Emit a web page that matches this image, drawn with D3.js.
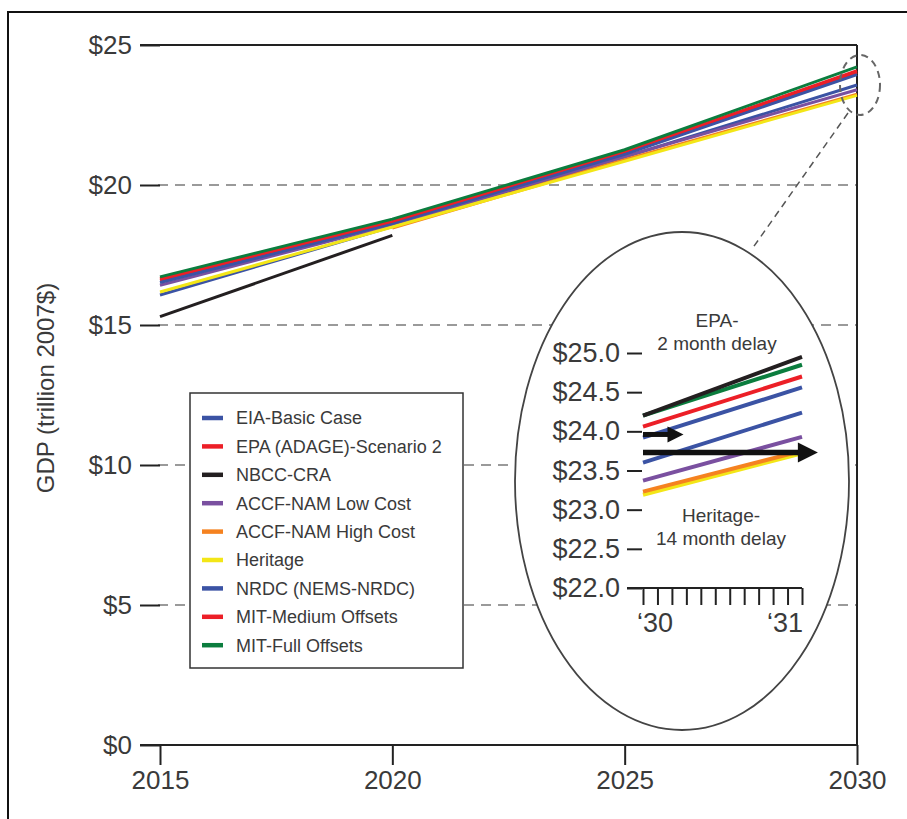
<!DOCTYPE html>
<html><head><meta charset="utf-8">
<script src="https://cdn.jsdelivr.net/npm/d3@7"></script>
<style>
html,body{margin:0;padding:0;background:#fff;}
svg{display:block;font-family:"Liberation Sans",Arial,sans-serif;}
</style></head>
<body>
<svg id="chart" width="907" height="819"></svg>
<script>
// ---------- DATA ----------
const years = [2015, 2020, 2025, 2030];
const seriesNames = ["EIA-Basic Case","EPA (ADAGE)-Scenario 2","NBCC-CRA","ACCF-NAM Low Cost","ACCF-NAM High Cost","Heritage","NRDC (NEMS-NRDC)","MIT-Medium Offsets","MIT-Full Offsets"];
const seriesColors = ["#3b53a4","#ec1f27","#231f20","#7a50a0","#f58220","#f3e617","#3b53a4","#ec1f27","#0b7d3e"];
// GDP, trillion 2007$, at 2015/2020/2025/2030 (null = not reported)
const eiaBasic   = [16.07, 18.52, 21.00, 23.57];
const epaAdage   = [16.60, 18.66, 21.16, 24.02];
const nbccCra    = [15.30, 18.20, null, null];
const accfLow    = [16.42, 18.58, 21.02, 23.40];
const accfHigh   = [null, 18.46, 20.90, 23.24];
const heritage   = [16.18, 18.50, 20.85, 23.20];
const nrdc       = [16.52, 18.62, 21.10, 23.94];
const mitMedium  = [16.65, 18.70, 21.20, 24.08];
const mitFull    = [16.72, 18.78, 21.26, 24.22];
const seriesValues = [eiaBasic, epaAdage, nbccCra, accfLow, accfHigh, heritage, nrdc, mitMedium, mitFull];
const yTickValues = [0, 5, 10, 15, 20, 25];
const xTickValues = [2015, 2020, 2025, 2030];

// Inset (zoom on 2030-2031), months 0..11
const insetMonths = [0, 11];
const insetTickMonths = d3.range(0, 12);
const insetTickLabels = ["\u201830", "\u201831"];
const insetYTicks = [22.0, 22.5, 23.0, 23.5, 24.0, 24.5, 25.0];
const insetNames  = ["NBCC-CRA","MIT-Full Offsets","MIT-Medium Offsets","NRDC (NEMS-NRDC)","EIA-Basic Case","ACCF-NAM Low Cost","ACCF-NAM High Cost","Heritage"];
const insetColors = ["#231f20","#0b7d3e","#ec1f27","#3b53a4","#3b53a4","#7a50a0","#f58220","#f3e617"];
const insetStart  = [24.20, 24.20, 24.06, 23.92, 23.60, 23.37, 23.23, 23.19];
const insetEnd    = [24.95, 24.85, 24.70, 24.56, 24.24, 23.93, 23.75, 23.72];
const arrowEndMonths = [2.8, 12.1];
const arrowValues    = [23.96, 23.73];
const insetNotes = [["EPA-","2 month delay"],["Heritage-","14 month delay"]];

// ---------- DRAW ----------
const svg = d3.select("#chart");
const textCol = "#3a3a3a";

// outer frame (left and top edges visible)
svg.append("rect").attr("x",8).attr("y",12).attr("width",920).attr("height",830)
  .attr("fill","none").attr("stroke","#111").attr("stroke-width",2);

const x = d3.scaleLinear().domain([2015, 2030]).range([160, 857]);
const y = d3.scaleLinear().domain([0, 25]).range([745, 45]);

// gridlines (dashed)
svg.append("g").selectAll("line").data(yTickValues.filter(v => v > 0 && v < 25)).join("line")
  .attr("x1", 158).attr("x2", 857).attr("y1", d => y(d)).attr("y2", d => y(d))
  .attr("stroke","#9a9a9a").attr("stroke-width",2).attr("stroke-dasharray","10,7");

// y axis: labels and short ticks
const yAxis = d3.axisLeft(y).tickValues(yTickValues).tickSize(20).tickPadding(8).tickFormat(d => "$" + d);
const gy = svg.append("g").attr("transform","translate(160,0)").call(yAxis);
gy.select(".domain").remove();
gy.selectAll(".tick line").attr("stroke","#222").attr("stroke-width",2);
gy.selectAll(".tick text").attr("fill",textCol).style("font-size","26px").style("font-family","'Liberation Sans',Arial,sans-serif");

// frame lines: top, right
svg.append("line").attr("x1",140).attr("x2",857).attr("y1",y(25)).attr("y2",y(25)).attr("stroke","#222").attr("stroke-width",2);
svg.append("line").attr("x1",857).attr("x2",857).attr("y1",y(25)).attr("y2",y(0)).attr("stroke","#222").attr("stroke-width",2);

const xAxis = d3.axisBottom(x).tickValues(xTickValues).tickSize(20).tickPadding(6).tickFormat(d3.format("d"));
const gx = svg.append("g").attr("transform",`translate(0,${y(0)})`).call(xAxis);
gx.select(".domain").attr("d", `M140,0H857`).attr("stroke","#222").attr("stroke-width",2);
gx.selectAll(".tick line").attr("stroke","#222").attr("stroke-width",2);
gx.selectAll(".tick text").attr("fill",textCol).style("font-size","26px").style("font-family","'Liberation Sans',Arial,sans-serif");

// y title
svg.append("text").attr("transform","translate(54,388) rotate(-90)").attr("text-anchor","middle")
  .attr("fill",textCol).style("font-size","24px").text("GDP (trillion 2007$)");

// series lines
const line = d3.line().defined(d => d.v != null).x(d => x(d.year)).y(d => y(d.v));
seriesValues.forEach((vals, i) => {
  const pts = years.map((yr, j) => ({year: yr, v: vals[j]}));
  svg.append("path").datum(pts).attr("d", line).attr("fill","none")
    .attr("stroke", seriesColors[i]).attr("stroke-width",3);
});

// legend
const lg = svg.append("g");
lg.append("rect").attr("x",190).attr("y",393).attr("width",273).attr("height",275)
  .attr("fill","#fff").attr("stroke","#333").attr("stroke-width",1.5);
seriesNames.forEach((n, i) => {
  const yy = 418 + i * 28.4;
  lg.append("line").attr("x1",202).attr("x2",223).attr("y1",yy).attr("y2",yy)
    .attr("stroke",seriesColors[i]).attr("stroke-width",4.5);
  lg.append("text").attr("x",236).attr("y",yy).attr("dy","0.36em").attr("fill",textCol)
    .style("font-size","18px").text(n);
});

// zoom marker (dashed ellipse) + connector
svg.append("ellipse").attr("cx",860).attr("cy",85).attr("rx",20).attr("ry",30)
  .attr("fill","none").attr("stroke","#666").attr("stroke-width",2).attr("stroke-dasharray","7,5");
svg.append("line").attr("x1",848).attr("y1",113).attr("x2",752).attr("y2",249)
  .attr("stroke","#555").attr("stroke-width",1.5).attr("stroke-dasharray","7,5");

// inset ellipse
svg.append("ellipse").attr("cx",682).attr("cy",481).attr("rx",167).attr("ry",249)
  .attr("fill","#fff").attr("stroke","#444").attr("stroke-width",1.8);

const ix = d3.scaleLinear().domain([0, 11]).range([643, 802]);
const iy = d3.scaleLinear().domain([22, 25]).range([588, 353]);

const iyAxis = d3.axisLeft(iy).tickValues(insetYTicks).tickSize(15).tickPadding(7).tickFormat(d => "$" + d3.format(".1f")(d));
const giy = svg.append("g").attr("transform","translate(642,0)").call(iyAxis);
giy.select(".domain").remove();
giy.selectAll(".tick line").attr("stroke","#222").attr("stroke-width",2);
giy.selectAll(".tick text").attr("fill",textCol).style("font-size","27px").style("font-family","'Liberation Sans',Arial,sans-serif");

const ixAxis = d3.axisBottom(ix).tickValues(insetTickMonths).tickSize(17).tickFormat("");
const gix = svg.append("g").attr("transform",`translate(0,${iy(22)})`).call(ixAxis);
gix.select(".domain").attr("d","M627,0H802").attr("stroke","#222").attr("stroke-width",2);
gix.selectAll(".tick line").attr("stroke","#222").attr("stroke-width",2);
svg.append("text").attr("x",ix(0) - 6).attr("y",iy(22) + 44).attr("fill",textCol)
  .style("font-size","27px").text(insetTickLabels[0]);
svg.append("text").attr("x",ix(11) + 1).attr("y",iy(22) + 44).attr("text-anchor","end").attr("fill",textCol)
  .style("font-size","27px").text(insetTickLabels[1]);

// inset lines (draw from bottom up so upper series sit on top)
for (let i = insetNames.length - 1; i >= 0; i--) {
  svg.append("line").attr("x1", ix(insetMonths[0])).attr("x2", ix(insetMonths[1]))
    .attr("y1", iy(insetStart[i])).attr("y2", iy(insetEnd[i]))
    .attr("stroke", insetColors[i]).attr("stroke-width", 4);
}

// arrows
arrowValues.forEach((v, i) => {
  const x0 = ix(0), x1 = ix(arrowEndMonths[i]), yy = iy(v);
  const hl = i === 0 ? 16 : 20, hw = i === 0 ? 8 : 10;
  svg.append("line").attr("x1",x0).attr("x2",x1 - hl + 2).attr("y1",yy).attr("y2",yy)
    .attr("stroke","#111").attr("stroke-width", i === 0 ? 5 : 5.5);
  svg.append("path").attr("d",`M${x1},${yy}L${x1-hl},${yy-hw}L${x1-hl},${yy+hw}Z`).attr("fill","#111");
});

// inset notes
const noteCenters = [[717, 320], [721, 515]];
insetNotes.forEach((lines, i) => {
  lines.forEach((t, k) => {
    svg.append("text").attr("x", noteCenters[i][0]).attr("y", noteCenters[i][1] + k * 23)
      .attr("text-anchor","middle").attr("dy","0.35em").attr("fill",textCol)
      .style("font-size","19px").text(t);
  });
});
</script>
</body></html>
